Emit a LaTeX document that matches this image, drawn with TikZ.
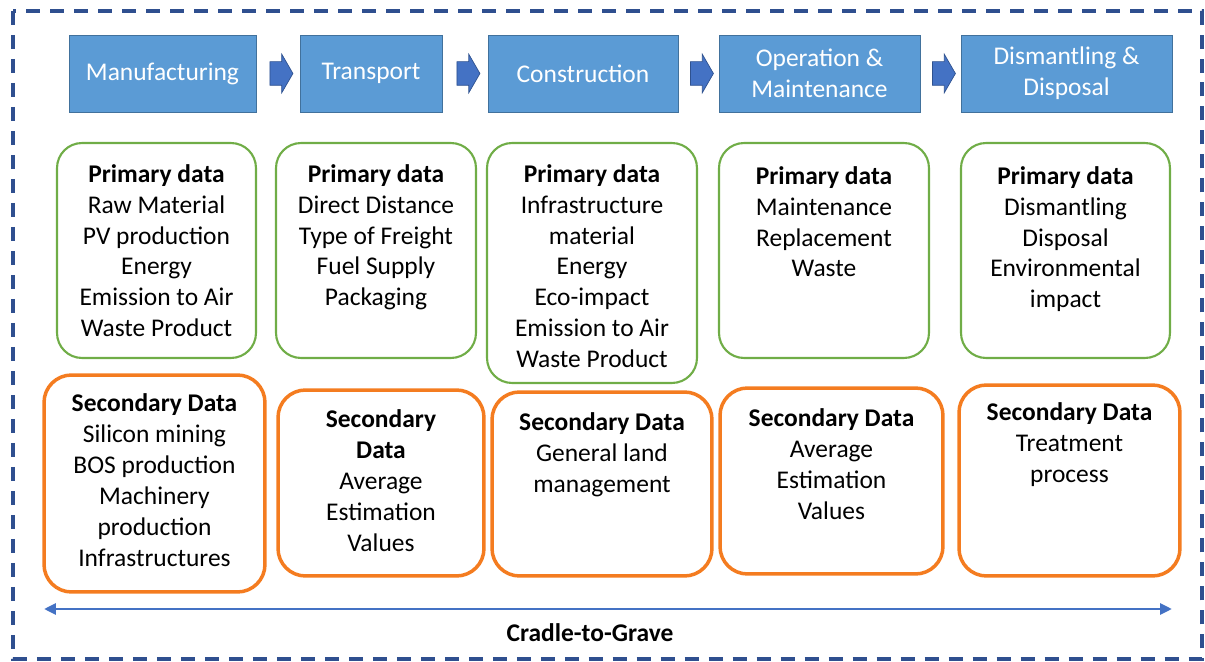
\documentclass[tikz,border=0pt]{standalone}
\usepackage{fontspec}
\setmainfont{Carlito}
\usetikzlibrary{positioning,calc,shapes.arrows,arrows.meta}
\definecolor{stagefill}{HTML}{5B9BD5}
\definecolor{stageline}{HTML}{41719C}
\definecolor{flowfill}{HTML}{4472C4}
\definecolor{flowline}{HTML}{2F528F}
\definecolor{prigreen}{HTML}{70AD47}
\definecolor{secorange}{HTML}{F47C20}
\definecolor{framecol}{HTML}{2F4F8F}

\begin{document}
\begin{tikzpicture}[
  x=0.02cm, y=-0.02cm,
  font=\fontsize{14.5}{17.6}\selectfont,
  stage/.style={draw=stageline, fill=stagefill, text=white, align=center,
    minimum height=1.54cm, inner sep=0pt},
  flow/.style={single arrow, draw=flowline, fill=flowfill, inner xsep=0pt,
    inner ysep=0.23cm, minimum height=0.46cm, minimum width=0.76cm,
    single arrow head extend=0.15cm, single arrow tip angle=120},
  pribox/.style={draw=prigreen, line width=1.2pt, rounded corners=0.5cm},
  secbox/.style={draw=secorange, line width=2pt, rounded corners=0.55cm},
  txt/.style={align=center, inner sep=0pt}
]
  \useasboundingbox (0,0) rectangle (1205,662);
  \draw[framecol, line width=2.3pt, dash pattern=on 0.28cm off 0.2cm] (13,11) rectangle (1202,659);

  % stages
  \node[stage, minimum width=3.74cm] (man) at (162.5,73.5) {Manufacturing};
  \node[stage, minimum width=2.84cm] (tra) at (371,73.5) {Transport};
  \node[stage, minimum width=3.8cm] (con) at (583,73.5) {Construction};
  \node[stage, minimum width=4.02cm] (ope) at (819.5,73.5) {Operation \&\\Maintenance};
  \node[stage, minimum width=4.22cm] (dis) at (1066.5,73.5) {Dismantling \&\\Disposal};

  \node[flow] (f1) at ($(man.east)!0.5!(tra.west)$) {};
  \node[flow] (f2) at ($(tra.east)!0.5!(con.west)$) {};
  \node[flow] (f3) at ($(con.east)!0.5!(ope.west)$) {};
  \node[flow] (f4) at ($(ope.east)!0.5!(dis.west)$) {};

  % primary data
  \node[pribox, minimum width=3.98cm, minimum height=4.3cm] (pri1) at (156.5,250.5) {};
  \node[pribox, minimum width=4.0cm, minimum height=4.3cm] (pri2) at (376,250.5) {};
  \node[pribox, minimum width=4.2cm, minimum height=4.8cm] (pri3) at (592,263) {};
  \node[pribox, minimum width=4.2cm, minimum height=4.3cm] (pri4) at (824,250.5) {};
  \node[pribox, minimum width=4.18cm, minimum height=4.3cm] (pri5) at (1065.5,250.5) {};

  \node[txt, below=0.44cm of pri1.north] (pri1t) {\textbf{Primary data}\\Raw Material\\PV production\\Energy\\Emission to Air\\Waste Product};
  \node[txt, below=0.44cm of pri2.north] (pri2t) {\textbf{Primary data}\\Direct Distance\\Type of Freight\\Fuel Supply\\Packaging};
  \node[txt, below=0.44cm of pri3.north] (pri3t) {\textbf{Primary data}\\Infrastructure\\material\\Energy\\Eco-impact\\Emission to Air\\Waste Product};
  \node[txt, below=0.48cm of pri4.north] (pri4t) {\textbf{Primary data}\\Maintenance\\Replacement\\Waste};
  \node[txt, below=0.48cm of pri5.north] (pri5t) {\textbf{Primary data}\\Dismantling\\Disposal\\Environmental\\impact};

  % secondary data
  \node[secbox, minimum width=4.42cm, minimum height=4.34cm] (sec1) at (154.5,483.5) {};
  \node[secbox, minimum width=4.12cm, minimum height=3.72cm] (sec2) at (381,483) {};
  \node[secbox, minimum width=4.4cm, minimum height=3.68cm] (sec3) at (602,484) {};
  \node[secbox, minimum width=4.46cm, minimum height=3.72cm] (sec4) at (831.5,481) {};
  \node[secbox, minimum width=4.42cm, minimum height=3.82cm] (sec5) at (1069.5,480.5) {};

  \node[txt, below=0.4cm of sec1.north] (sec1t) {\textbf{Secondary Data}\\Silicon mining\\BOS production\\Machinery\\production\\Infrastructures};
  \node[txt, below=0.42cm of sec2.north] (sec2t) {\textbf{Secondary}\\\textbf{Data}\\Average\\Estimation\\Values};
  \node[txt, below=0.44cm of sec3.north] (sec3t) {\textbf{Secondary Data}\\General land\\management};
  \node[txt, below=0.44cm of sec4.north] (sec4t) {\textbf{Secondary Data}\\Average\\Estimation\\Values};
  \node[txt, below=0.38cm of sec5.north] (sec5t) {\textbf{Secondary Data}\\Treatment\\process};

  % life span
  \coordinate (cstart) at (44,609);
  \coordinate (cend) at (1172,609);
  \draw[flowfill, line width=1.7pt, {Triangle[length=0.24cm,width=0.22cm]}-{Triangle[length=0.24cm,width=0.22cm]}] (cstart) -- (cend);
  \node[txt, font=\fontsize{14.5}{17.6}\selectfont\bfseries] (cglabel) at (590,633) {Cradle-to-Grave};
\end{tikzpicture}
\end{document}
